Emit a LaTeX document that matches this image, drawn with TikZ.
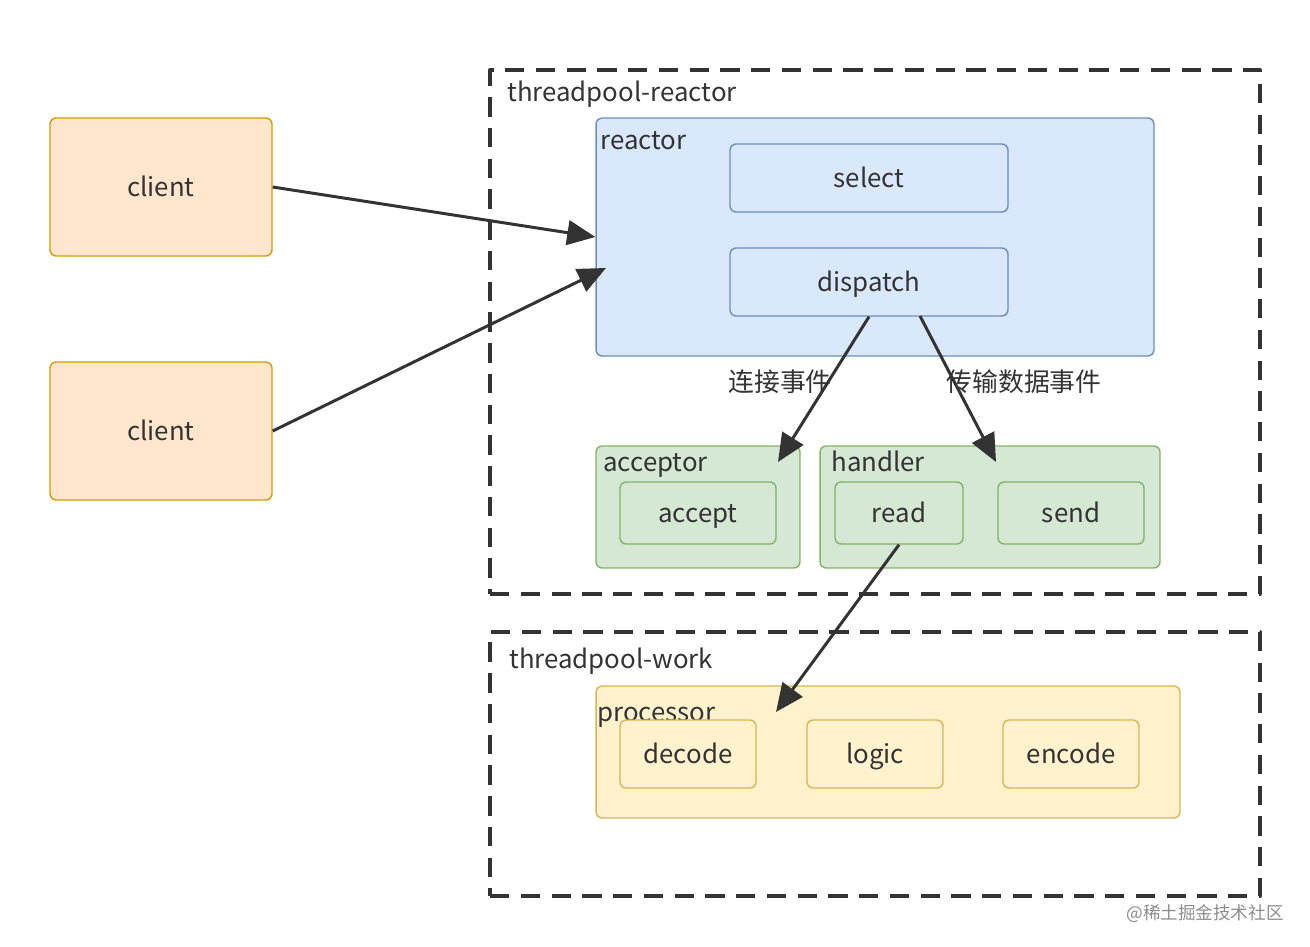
\documentclass[tikz,border=0pt]{standalone}
\usepackage{fontspec}
\setmainfont{Noto Sans CJK SC}
\usetikzlibrary{arrows.meta}
\definecolor{txt}{HTML}{333333}
\definecolor{clientfill}{HTML}{FFE6CC}
\definecolor{clientline}{HTML}{D79B00}
\definecolor{bluefill}{HTML}{DAE8FC}
\definecolor{blueline}{HTML}{6C8EBF}
\definecolor{greenfill}{HTML}{D5E8D4}
\definecolor{greenline}{HTML}{82B366}
\definecolor{yellowfill}{HTML}{FFF2CC}
\definecolor{yellowline}{HTML}{D6B656}
\begin{document}
\begin{tikzpicture}[x=0.02cm, y=-0.02cm, font=\fontsize{14.7}{17}\selectfont, text=txt, line join=round,
  >={Triangle[length=16pt, width=14pt]},
  every node/.style={text height=1.2em, text depth=0.1em},
  box/.style={draw, rounded corners=3.5pt, line width=0.8pt, inner sep=0pt},
  clientbox/.style={box, fill=clientfill, draw=clientline, minimum width=4.44cm, minimum height=2.76cm},
  bluebox/.style={box, fill=bluefill, draw=blueline},
  greenbox/.style={box, fill=greenfill, draw=greenline},
  yellowbox/.style={box, fill=yellowfill, draw=yellowline},
  pool/.style={draw=txt, line width=2pt, dash pattern=on 11pt off 6.5pt, minimum width=15.4cm, inner sep=0pt},
  title/.style={anchor=west, inner sep=0pt},
  flow/.style={->, draw=txt, line width=1.7pt}]
\useasboundingbox (0,0) rectangle (1310,946);
% clients
\node[clientbox] (client1) at (161,187) {client};
\node[clientbox] (client2) at (161,431) {client};
% threadpool-reactor
\node[pool, minimum height=10.48cm] (tpr) at (875,332) {};
\node[title] (tprlabel) at (507,92) {threadpool-reactor};
\node[bluebox, minimum width=11.16cm, minimum height=4.76cm] (reactor) at (875,237) {};
\node[title] (reactorlabel) at (600,140) {reactor};
\node[bluebox, minimum width=5.56cm, minimum height=1.36cm] (select) at (869,178) {select};
\node[bluebox, minimum width=5.56cm, minimum height=1.36cm] (dispatch) at (869,282) {dispatch};
\node[greenbox, minimum width=4.08cm, minimum height=2.44cm] (acceptor) at (698,507) {};
\node[title] (acceptorlabel) at (603,462) {acceptor};
\node[greenbox, minimum width=3.12cm, minimum height=1.24cm] (accept) at (698,513) {accept};
\node[greenbox, minimum width=6.8cm, minimum height=2.44cm] (handler) at (990,507) {};
\node[title] (handlerlabel) at (831,462) {handler};
\node[greenbox, minimum width=2.56cm, minimum height=1.24cm] (read) at (899,513) {read};
\node[greenbox, minimum width=2.92cm, minimum height=1.24cm] (send) at (1071,513) {send};
% threadpool-work
\node[pool, minimum height=5.28cm] (tpw) at (875,764) {};
\node[title] (tpwlabel) at (509,659) {threadpool-work};
\node[yellowbox, minimum width=11.68cm, minimum height=2.64cm] (processor) at (888,752) {};
\node[title] (processorlabel) at (597,712) {processor};
\node[yellowbox, minimum width=2.72cm, minimum height=1.36cm] (decode) at (688,754) {decode};
\node[yellowbox, minimum width=2.72cm, minimum height=1.36cm] (logic) at (875,754) {logic};
\node[yellowbox, minimum width=2.72cm, minimum height=1.36cm] (encode) at (1071,754) {encode};
% event labels
\node (connlabel) at (780,382) {连接事件};
\node (datalabel) at (1024,382) {传输数据事件};
\node[text=black!45, font=\fontsize{10}{11}\selectfont] (mark) at (1205,910) {@稀土掘金技术社区};
% arrows
\coordinate (rin2) at (606,268);
\coordinate (dout1) at (920,316);
\coordinate (acc) at (778,462);
\coordinate (hdl) at (996,462);
\coordinate (proc) at (776,712);
\draw[flow] (client1.east) -- (reactor.west);
\draw[flow] (client2.east) -- (rin2);
\draw[flow] (dispatch.south) -- (acc);
\draw[flow] (dout1) -- (hdl);
\draw[flow] (read.south) -- (proc);
\end{tikzpicture}
\end{document}
